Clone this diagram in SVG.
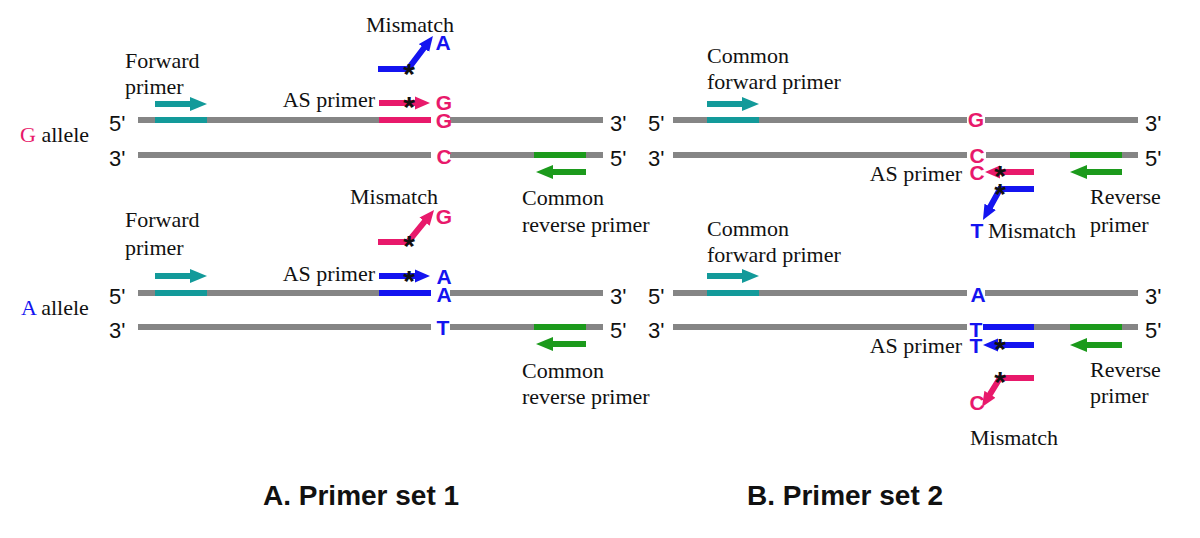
<svg xmlns="http://www.w3.org/2000/svg" width="1200" height="538" viewBox="0 0 1200 538">
<style>
.lbl{font-family:"Liberation Serif","Times New Roman",serif;font-size:22px;fill:#111}
.end{font-family:"Liberation Sans",Arial,sans-serif;font-size:22px;fill:#111}
.base{font-family:"Liberation Sans",Arial,sans-serif;font-size:21px;font-weight:bold;text-anchor:middle}
.title{font-family:"Liberation Sans",Arial,sans-serif;font-size:28px;font-weight:bold;fill:#111}
.star{font-family:"Liberation Sans",Arial,sans-serif;font-size:30px;font-weight:bold;text-anchor:middle;fill:#111}
.strand{stroke:#858585;stroke-width:6;fill:none}
.teal{stroke:#139a9a;stroke-width:6;fill:none}
.green{stroke:#1c9a1c;stroke-width:6;fill:none}
.pink{stroke:#e8196b;stroke-width:6;fill:none}
.blue{stroke:#1414f0;stroke-width:6;fill:none}
.pk{fill:#e8196b}
.bl{fill:#1414f0}
</style>
<defs>
<marker id="hTeal" markerUnits="userSpaceOnUse" markerWidth="18" markerHeight="14" refX="1" refY="7" orient="auto" viewBox="0 0 18 14"><path d="M0,0 L17,7 L0,14 Z" fill="#139a9a"/></marker>
<marker id="hGreen" markerUnits="userSpaceOnUse" markerWidth="18" markerHeight="14" refX="1" refY="7" orient="auto" viewBox="0 0 18 14"><path d="M0,0 L17,7 L0,14 Z" fill="#1c9a1c"/></marker>
<marker id="hPink" markerUnits="userSpaceOnUse" markerWidth="16" markerHeight="14" refX="1" refY="7" orient="auto" viewBox="0 0 16 14"><path d="M0,0.5 L15,7 L0,13.5 Z" fill="#e8196b"/></marker>
<marker id="hBlue" markerUnits="userSpaceOnUse" markerWidth="16" markerHeight="14" refX="1" refY="7" orient="auto" viewBox="0 0 16 14"><path d="M0,0.5 L15,7 L0,13.5 Z" fill="#1414f0"/></marker>
</defs>
<rect width="1200" height="538" fill="#fff"/>

<!-- Panel A, G allele -->
<g id="a-g-allele">
<text class="lbl" x="20" y="142"><tspan fill="#e8196b">G</tspan> allele</text>
<text class="end" x="109" y="131">5'</text>
<text class="end" x="109" y="166">3'</text>
<text class="end" x="610" y="131">3'</text>
<text class="end" x="610" y="166">5'</text>
<path class="strand" d="M138,120 H431 M450,120 H603 M138,155 H431 M450,155 H603"/>
<path class="teal" d="M155,120 H207"/>
<path class="pink" d="M379,120 H431"/>
<path class="green" d="M534,155 H586"/>
<text class="base pk" x="444" y="128">G</text>
<text class="base pk" x="444" y="164">C</text>
</g>
<g id="a-g-primers">
<text class="lbl" x="125" y="68">Forward</text>
<text class="lbl" x="125" y="94">primer</text>
<text class="lbl" x="375" y="107" text-anchor="end">AS primer</text>
<text class="lbl" x="366" y="32">Mismatch</text>
<text class="lbl" x="522" y="205">Common</text>
<text class="lbl" x="522" y="232">reverse primer</text>
<text class="base bl" x="443" y="50">A</text>
<text class="base pk" x="444" y="110">G</text>
</g>
<g id="connectors-a-g">
<path class="teal" d="M155,104 H191" marker-end="url(#hTeal)"/>
<path class="pink" d="M379,103 H416" marker-end="url(#hPink)"/>
<path class="blue" d="M378,69 H408 L424.5,47.2" marker-end="url(#hBlue)"/>
<path class="green" d="M586,172 H552" marker-end="url(#hGreen)"/>
<text class="star" x="409" y="84">*</text>
<text class="star" x="409" y="117">*</text>
</g>

<!-- Panel A, A allele -->
<g id="a-a-allele">
<text class="lbl" x="21" y="315"><tspan fill="#1414f0">A</tspan> allele</text>
<text class="end" x="109" y="304">5'</text>
<text class="end" x="109" y="338">3'</text>
<text class="end" x="610" y="304">3'</text>
<text class="end" x="610" y="338">5'</text>
<path class="strand" d="M138,293 H431 M450,293 H603 M138,327 H431 M450,327 H603"/>
<path class="teal" d="M155,293 H207"/>
<path class="blue" d="M379,293 H431"/>
<path class="green" d="M534,327 H586"/>
<text class="base bl" x="444" y="302">A</text>
<text class="base bl" x="443" y="335">T</text>
</g>
<g id="a-a-primers">
<text class="lbl" x="125" y="227">Forward</text>
<text class="lbl" x="125" y="255">primer</text>
<text class="lbl" x="375" y="281" text-anchor="end">AS primer</text>
<text class="lbl" x="350" y="204">Mismatch</text>
<text class="lbl" x="522" y="378">Common</text>
<text class="lbl" x="522" y="404">reverse primer</text>
<text class="base pk" x="444" y="224">G</text>
<text class="base bl" x="444" y="284">A</text>
</g>
<g id="connectors-a-a">
<path class="teal" d="M155,276 H191" marker-end="url(#hTeal)"/>
<path class="blue" d="M379,276 H416" marker-end="url(#hBlue)"/>
<path class="pink" d="M378,242 H408 L425.2,220.9" marker-end="url(#hPink)"/>
<path class="green" d="M586,344 H552" marker-end="url(#hGreen)"/>
<text class="star" x="409" y="256">*</text>
<text class="star" x="409" y="291">*</text>
</g>

<!-- Panel B, G allele -->
<g id="b-g-allele">
<text class="end" x="648" y="131">5'</text>
<text class="end" x="648" y="166">3'</text>
<text class="end" x="1145" y="131">3'</text>
<text class="end" x="1145" y="166">5'</text>
<path class="strand" d="M673,120 H967 M985,120 H1138 M673,155 H967 M986,155 H1138"/>
<path class="teal" d="M707,120 H759"/>
<path class="green" d="M1070,155 H1122"/>
<text class="base pk" x="976" y="127">G</text>
<text class="base pk" x="977" y="163">C</text>
</g>
<g id="b-g-primers">
<text class="lbl" x="707" y="63">Common</text>
<text class="lbl" x="707" y="89">forward primer</text>
<text class="lbl" x="962" y="181" text-anchor="end">AS primer</text>
<text class="lbl" x="988" y="238">Mismatch</text>
<text class="lbl" x="1090" y="204">Reverse</text>
<text class="lbl" x="1090" y="232">primer</text>
<text class="base pk" x="977" y="180">C</text>
<text class="base bl" x="977" y="238">T</text>
</g>
<g id="connectors-b-g">
<path class="teal" d="M707,104 H743" marker-end="url(#hTeal)"/>
<path class="pink" d="M1034,172 H999" marker-end="url(#hPink)"/>
<path class="blue" d="M1034,189 H1000 L989.7,207.7" marker-end="url(#hBlue)"/>
<path class="green" d="M1122,172 H1086" marker-end="url(#hGreen)"/>
<text class="star" x="1000" y="186">*</text>
<text class="star" x="1000" y="204">*</text>
</g>

<!-- Panel B, A allele -->
<g id="b-a-allele">
<text class="end" x="648" y="304">5'</text>
<text class="end" x="648" y="338">3'</text>
<text class="end" x="1145" y="304">3'</text>
<text class="end" x="1145" y="338">5'</text>
<path class="strand" d="M673,293 H967 M985,293 H1138 M673,327 H967 M983,327 H1138"/>
<path class="teal" d="M707,293 H759"/>
<path class="blue" d="M983,327 H1034"/>
<path class="green" d="M1070,327 H1122"/>
<text class="base bl" x="978" y="302">A</text>
<text class="base bl" x="976" y="337">T</text>
</g>
<g id="b-a-primers">
<text class="lbl" x="707" y="236">Common</text>
<text class="lbl" x="707" y="262">forward primer</text>
<text class="lbl" x="962" y="353" text-anchor="end">AS primer</text>
<text class="lbl" x="970" y="445">Mismatch</text>
<text class="lbl" x="1090" y="377">Reverse</text>
<text class="lbl" x="1090" y="403">primer</text>
<text class="base bl" x="976" y="353">T</text>
<text class="base pk" x="977" y="410">C</text>
</g>
<g id="connectors-b-a">
<path class="teal" d="M707,276 H743" marker-end="url(#hTeal)"/>
<path class="blue" d="M1034,345 H997" marker-end="url(#hBlue)"/>
<path class="pink" d="M1034,378 H1000 L989.4,395.1" marker-end="url(#hPink)"/>
<path class="green" d="M1122,345 H1086" marker-end="url(#hGreen)"/>
<text class="star" x="1000" y="359">*</text>
<text class="star" x="1000" y="392">*</text>
</g>

<g id="titles">
<text class="title" x="263" y="505">A. Primer set 1</text>
<text class="title" x="747" y="505">B. Primer set 2</text>
</g>
</svg>
